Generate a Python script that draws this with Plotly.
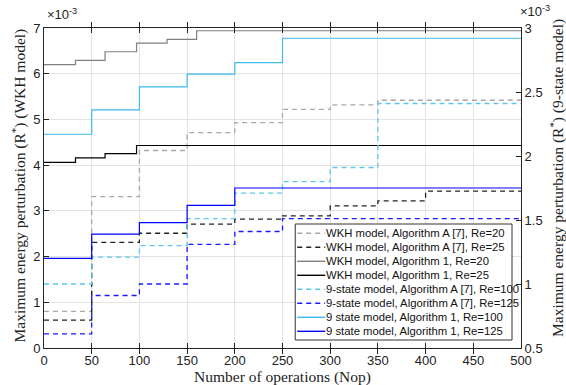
import plotly.graph_objects as go

# ---- data (values in units of 1e-3) ----
x_wkh_a20 = [0, 50, 100, 150, 200, 250, 300, 350, 500]
y_wkh_a20 = [0.80, 3.31, 4.32, 4.71, 4.93, 5.22, 5.32, 5.42, 5.42]

x_wkh_a25 = [0, 50, 100, 150, 200, 250, 300, 350, 400, 500]
y_wkh_a25 = [0.61, 2.31, 2.51, 2.71, 2.82, 2.89, 3.11, 3.22, 3.43, 3.43]

x_wkh_1_20 = [0, 33, 64, 97, 129, 160, 500]
y_wkh_1_20 = [6.20, 6.29, 6.48, 6.67, 6.75, 6.94, 6.94]

x_wkh_1_25 = [0, 33, 64, 97, 500]
y_wkh_1_25 = [4.06, 4.16, 4.25, 4.43, 4.43]

x_9_a100 = [0, 50, 100, 150, 200, 250, 300, 350, 500]
y_9_a100 = [1.00, 1.21, 1.30, 1.51, 1.71, 1.80, 1.91, 2.41, 2.41]

x_9_a125 = [0, 50, 100, 150, 200, 250, 500]
y_9_a125 = [0.61, 0.91, 1.00, 1.31, 1.41, 1.51, 1.51]

x_9_1_100 = [0, 50, 100, 150, 200, 250, 500]
y_9_1_100 = [2.17, 2.36, 2.54, 2.64, 2.73, 2.92, 2.92]

x_9_1_125 = [0, 50, 100, 150, 200, 500]
y_9_1_125 = [1.20, 1.39, 1.48, 1.615, 1.75, 1.75]

x_ticks = [0, 50, 100, 150, 200, 250, 300, 350, 400, 450, 500]
y1_ticks = [0, 1, 2, 3, 4, 5, 6, 7]
y2_ticks = [0.5, 1, 1.5, 2, 2.5, 3]
y2_ticktext = ["0.5", "1", "1.5", "2", "2.5", "3"]

names = [
    "WKH model, Algorithm A [7], Re=20",
    "WKH model, Algorithm A [7], Re=25",
    "WKH model, Algorithm 1, Re=20",
    "WKH model, Algorithm 1, Re=25",
    "9-state model, Algorithm A [7], Re=100",
    "9-state model, Algorithm A [7], Re=125",
    "9 state model, Algorithm 1, Re=100",
    "9 state model, Algorithm 1, Re=125",
]

series = [
    (x_wkh_a20, y_wkh_a20, "#A8A8A8", "dash", "y", 1.3),
    (x_wkh_a25, y_wkh_a25, "#222222", "dash", "y", 1.3),
    (x_wkh_1_20, y_wkh_1_20, "#808080", "solid", "y", 1.2),
    (x_wkh_1_25, y_wkh_1_25, "#000000", "solid", "y", 1.2),
    (x_9_a100, y_9_a100, "#5CC6EE", "dash", "y2", 1.3),
    (x_9_a125, y_9_a125, "#1A1AFF", "dash", "y2", 1.3),
    (x_9_1_100, y_9_1_100, "#3DBBEE", "solid", "y2", 1.2),
    (x_9_1_125, y_9_1_125, "#0000FF", "solid", "y2", 1.2),
]

DASH = "5px,4px"
fig = go.Figure()
for (xs, ys, col, dash, ax, w), nm in zip(series, names):
    fig.add_trace(go.Scatter(
        x=xs, y=ys, mode="lines", name=nm, yaxis=ax, showlegend=False,
        line=dict(color=col, dash=DASH if dash == "dash" else "solid", width=w, shape="hv"),
    ))

tickfont = dict(family="Liberation Sans, Arial", size=13, color="#222")
L, R, T, B = 43.5, 45, 28, 37
W, H = 566, 385
PW, PH = W - L - R, H - T - B
fig.update_layout(
    width=W, height=H,
    margin=dict(l=L, r=R, t=T, b=B, autoexpand=False),
    paper_bgcolor="white", plot_bgcolor="white",
    showlegend=False,
    xaxis=dict(
        range=[0, 500], tickvals=x_ticks, ticks="inside", ticklen=5,
        showline=True, linecolor="#262626", linewidth=1, mirror="allticks",
        showgrid=True, gridcolor="#E3E3E3", gridwidth=1, zeroline=False,
        tickfont=tickfont, tickcolor="#262626", automargin=False,
    ),
    yaxis=dict(
        range=[0, 7], tickvals=y1_ticks, ticks="inside", ticklen=5,
        showline=True, linecolor="#262626", linewidth=1, mirror=False,
        showgrid=True, gridcolor="#E3E3E3", gridwidth=1, zeroline=False,
        tickfont=tickfont, tickcolor="#262626", automargin=False,
    ),
    yaxis2=dict(
        range=[0.5, 3], tickvals=y2_ticks, ticktext=y2_ticktext, overlaying="y", side="right",
        ticks="inside", ticklen=5, showline=True, linecolor="#262626", linewidth=1,
        showgrid=False, zeroline=False, tickfont=tickfont, tickcolor="#262626", automargin=False,
    ),
)

# ---- custom compact legend (paper coordinates) ----
def px2paper_x(px):
    return (px - L) / PW

def px2paper_y(py):
    return (H - B - py) / PH

fig.add_shape(type="rect", xref="paper", yref="paper",
              x0=px2paper_x(295), x1=px2paper_x(512), y0=px2paper_y(340), y1=px2paper_y(224),
              line=dict(color="#333333", width=1), fillcolor="white", layer="above")
for i, ((xs, ys, col, dash, ax, w), nm) in enumerate(zip(series, names)):
    yc = 233.3 + 14 * i
    fig.add_shape(type="line", xref="paper", yref="paper",
                  x0=px2paper_x(297), x1=px2paper_x(325), y0=px2paper_y(yc), y1=px2paper_y(yc),
                  line=dict(color=col, width=w + 0.2, dash=DASH if dash == "dash" else "solid"),
                  layer="above")
    fig.add_annotation(text=nm, xref="paper", yref="paper", x=px2paper_x(324), y=px2paper_y(yc),
                       xanchor="left", yanchor="middle", showarrow=False,
                       font=dict(family="Liberation Sans, Arial", size=11.3, color="#111"))

serif = dict(family="Liberation Serif, Times New Roman, serif", size=15.5, color="#222")
fig.add_annotation(text="Number of operations (Nop)", xref="paper", yref="paper",
                   x=0.5, y=px2paper_y(377), xanchor="center", yanchor="middle", showarrow=False, font=serif)
fig.add_annotation(text="Maximum energy perturbation (R<sup>*</sup>) (WKH model)", xref="paper", yref="paper",
                   x=px2paper_x(18), y=px2paper_y(186), xanchor="center", yanchor="middle", textangle=-90,
                   showarrow=False, font=serif)
fig.add_annotation(text="Maximum energy perturbation (R<sup>*</sup>) (9-state model)", xref="paper", yref="paper",
                   x=px2paper_x(557), y=px2paper_y(178), xanchor="center", yanchor="middle", textangle=-90,
                   showarrow=False, font=serif)
fig.add_annotation(text="×10<sup>-3</sup>", xref="paper", yref="paper",
                   x=px2paper_x(45), y=px2paper_y(24), xanchor="left", yanchor="bottom", showarrow=False,
                   font=dict(family="Liberation Sans, Arial", size=13, color="#222"))
fig.add_annotation(text="×10<sup>-3</sup>", xref="paper", yref="paper",
                   x=px2paper_x(518), y=px2paper_y(21), xanchor="left", yanchor="bottom", showarrow=False,
                   font=dict(family="Liberation Sans, Arial", size=13, color="#222"))

fig.write_html("out.html", config={"displayModeBar": False},
               post_script="document.body.style.margin='0';document.body.style.overflow='hidden';")
